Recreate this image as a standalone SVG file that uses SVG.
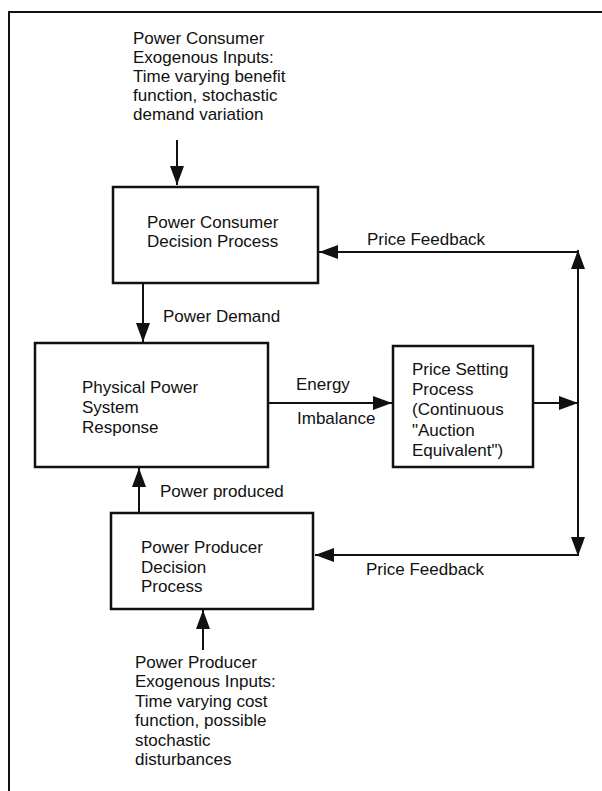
<svg xmlns="http://www.w3.org/2000/svg" width="602" height="791" viewBox="0 0 602 791">
<style>
.t{font-family:"Liberation Sans",Arial,Helvetica,sans-serif;font-size:17px;fill:#111}
.box{fill:#fff;stroke:#111;stroke-width:2.5}
.ln{stroke:#111;stroke-width:2;fill:none}
.frame{stroke:#111;stroke-width:2;fill:none}
</style>
<defs>
<marker id="ah" markerUnits="userSpaceOnUse" markerWidth="20" markerHeight="14" refX="19" refY="7" orient="auto">
<path d="M0,0 L19,7 L0,14 Z" fill="#111"/>
</marker>
</defs>
<rect width="602" height="791" fill="#fff"/>
<path class="frame" d="M9,791 L9,12 L602,12"/>

<g id="consumer-inputs">
<text class="t" x="133" y="44">Power Consumer</text>
<text class="t" x="133" y="63">Exogenous Inputs:</text>
<text class="t" x="133" y="82">Time varying benefit</text>
<text class="t" x="133" y="101">function, stochastic</text>
<text class="t" x="133" y="120">demand variation</text>
</g>

<g id="consumer">
<rect class="box" x="113" y="187" width="205" height="96"/>
<text class="t" x="147" y="228">Power Consumer</text>
<text class="t" x="147" y="247">Decision Process</text>
</g>

<g id="physical">
<rect class="box" x="35" y="343" width="233" height="124"/>
<text class="t" x="82" y="393">Physical Power</text>
<text class="t" x="82" y="413">System</text>
<text class="t" x="82" y="433">Response</text>
</g>

<g id="price">
<rect class="box" x="393" y="346" width="140" height="121"/>
<text class="t" x="412" y="375">Price Setting</text>
<text class="t" x="412" y="395">Process</text>
<text class="t" x="412" y="415">(Continuous</text>
<text class="t" x="412" y="436">"Auction</text>
<text class="t" x="412" y="456">Equivalent")</text>
</g>

<g id="producer">
<rect class="box" x="111" y="513" width="202" height="96"/>
<text class="t" x="141" y="553">Power Producer</text>
<text class="t" x="141" y="573">Decision</text>
<text class="t" x="141" y="592">Process</text>
</g>

<g id="producer-inputs">
<text class="t" x="135" y="668">Power Producer</text>
<text class="t" x="135" y="687">Exogenous Inputs:</text>
<text class="t" x="135" y="707">Time varying cost</text>
<text class="t" x="135" y="726">function, possible</text>
<text class="t" x="135" y="746">stochastic</text>
<text class="t" x="135" y="765">disturbances</text>
</g>

<g id="connectors">
<path class="ln" d="M177,140 L177,185" marker-end="url(#ah)"/>
<path class="ln" d="M578,252 L319,252" marker-end="url(#ah)"/>
<path class="ln" d="M143,284 L143,342" marker-end="url(#ah)"/>
<path class="ln" d="M268,403 L392,403" marker-end="url(#ah)"/>
<path class="ln" d="M533,403 L578,403" marker-end="url(#ah)"/>
<path class="ln" d="M578,403 L578,250" marker-end="url(#ah)"/>
<path class="ln" d="M578,403 L578,556" marker-end="url(#ah)"/>
<path class="ln" d="M578,555 L315,555" marker-end="url(#ah)"/>
<path class="ln" d="M139,513 L139,468" marker-end="url(#ah)"/>
<path class="ln" d="M203,650 L203,610" marker-end="url(#ah)"/>
<text class="t" x="367" y="245">Price Feedback</text>
<text class="t" x="163" y="322">Power Demand</text>
<text class="t" x="296" y="390">Energy</text>
<text class="t" x="297" y="424">Imbalance</text>
<text class="t" x="160" y="497">Power produced</text>
<text class="t" x="366" y="575">Price Feedback</text>
</g>
</svg>
